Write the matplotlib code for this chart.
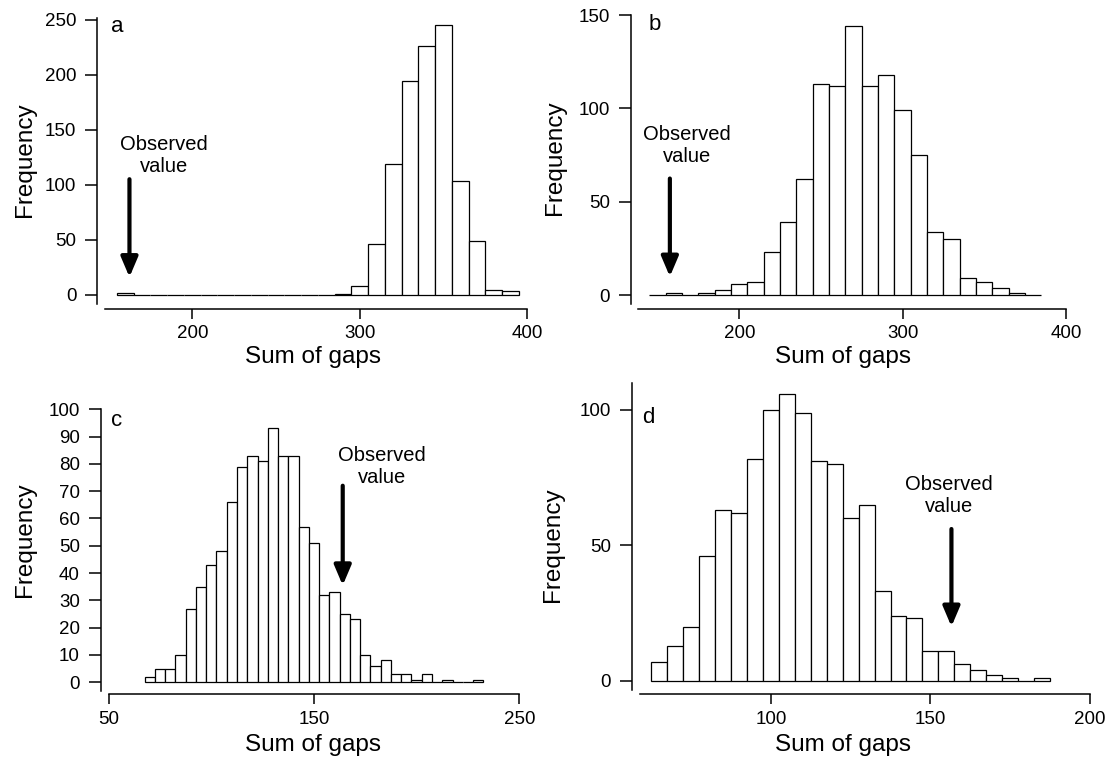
import matplotlib
matplotlib.use("Agg")
import matplotlib.pyplot as plt

plt.rcParams["font.family"] = ["Liberation Sans", "DejaVu Sans"]

# histogram bins (centres) and counts
a_centers = [160, 170, 180, 190, 200, 210, 220, 230, 240, 250, 260, 270,
             280, 290, 300, 310, 320, 330, 340, 350, 360, 370, 380, 390]
a_counts = [2, 0, 0, 0, 0, 0, 0, 0, 0, 0, 0, 0,
            0, 1, 8, 46, 119, 194, 226, 245, 103, 49, 4, 3]

b_centers = [150, 160, 170, 180, 190, 200, 210, 220, 230, 240, 250, 260,
             270, 280, 290, 300, 310, 320, 330, 340, 350, 360, 370, 380]
b_counts = [0, 1, 0, 1, 3, 6, 7, 23, 39, 62, 113, 112,
            144, 112, 118, 99, 75, 34, 30, 9, 7, 4, 1, 0]

c_centers = [70, 75, 80, 85, 90, 95, 100, 105, 110, 115, 120, 125, 130,
             135, 140, 145, 150, 155, 160, 165, 170, 175, 180, 185, 190,
             195, 200, 205, 210, 215, 220, 225, 230]
c_counts = [2, 5, 5, 10, 27, 35, 43, 48, 66, 79, 83, 81, 93,
            83, 83, 57, 51, 32, 33, 25, 23, 10, 6, 8, 3,
            3, 1, 3, 0, 1, 0, 0, 1]

d_centers = [65, 70, 75, 80, 85, 90, 95, 100, 105, 110, 115, 120, 125,
             130, 135, 140, 145, 150, 155, 160, 165, 170, 175, 180, 185]
d_counts = [7, 13, 20, 46, 63, 62, 82, 100, 106, 99, 81, 80, 60,
            65, 33, 24, 23, 11, 11, 6, 4, 2, 1, 0, 1]

bin_widths = {"a": 10, "b": 10, "c": 5, "d": 5}
x_ticks = {"a": [200, 300, 400], "b": [200, 300, 400],
           "c": [50, 150, 250], "d": [100, 150, 200]}
y_ticks = {"a": [0, 50, 100, 150, 200, 250], "b": [0, 50, 100, 150],
           "c": [0, 10, 20, 30, 40, 50, 60, 70, 80, 90, 100], "d": [0, 50, 100]}

# observed value: arrow x, arrow top, arrow tip, text x, text y
observed = {"a": (162.5, 105, 16, 183, 127),
            "b": (157.5, 62.5, 10, 168, 80),
            "c": (164, 72, 35.5, 183, 79),
            "d": (156.6, 56, 20, 155.7, 68.5)}

W, H = 1109, 762
fig = plt.figure(figsize=(W / 100, H / 100), dpi=100)


def px_axes(left, right, top, bottom):
    return fig.add_axes([left / W, 1 - bottom / H, (right - left) / W, (bottom - top) / H])


def panel(ax, key, centers, counts, xlim, ylim, xb, yb):
    ax.bar(centers, counts, width=bin_widths[key], facecolor="white",
           edgecolor="black", linewidth=0.9)
    ax.set_xlim(*xlim)
    ax.set_ylim(*ylim)
    for s in ["top", "right"]:
        ax.spines[s].set_visible(False)
    ax.spines["left"].set_bounds(*yb)
    ax.spines["bottom"].set_bounds(*xb)
    ax.spines["left"].set_linewidth(1.1)
    ax.spines["bottom"].set_linewidth(1.1)
    ax.set_xticks(x_ticks[key])
    ax.set_yticks(y_ticks[key])
    ax.tick_params(axis="y", length=9, width=1.1, pad=6, labelsize=13.5)
    ax.tick_params(axis="x", length=7, width=1.1, pad=5, labelsize=13.5)
    ax.patch.set_alpha(0)

    ax_x, top, tip, tx, ty = observed[key]
    ax.annotate("", xy=(ax_x, tip), xytext=(ax_x, top),
                arrowprops=dict(arrowstyle="-|>,head_length=0.8,head_width=0.34",
                                lw=3, color="black", mutation_scale=15,
                                shrinkA=0, shrinkB=0))
    ax.text(tx, ty, "Observed\nvalue", ha="center", va="center",
            fontsize=14.5, linespacing=1.2)


ax_a = px_axes(97.3, 540, 12, 308.7)
panel(ax_a, "a", a_centers, a_counts, (143.3, 407.6), (-12.7, 257), (148, 400), (-8.5, 252))

ax_b = px_axes(631, 1075, 10, 308.7)
panel(ax_b, "b", b_centers, b_counts, (133.7, 405.6), (-7.17, 152.7), (138, 400), (-4.66, 150))

ax_c = px_axes(100.7, 540, 400, 694.3)
panel(ax_c, "c", c_centers, c_counts, (46.1, 260.1), (-4.4, 103.4), (50, 250), (-3.1, 100))

ax_d = px_axes(632, 1100, 380, 694.3)
panel(ax_d, "d", d_centers, d_counts, (56.4, 203.2), (-5.0, 111), (59, 200), (-3.4, 110))

# axis titles and panel letters placed in figure pixels
def ftext(x, y, s, **kw):
    fig.text(x / W, 1 - y / H, s, ha="center", va="center", **kw)


for x, y in [(25, 160), (555, 158), (25, 540), (553, 545)]:
    ftext(x, y, "Frequency", fontsize=17.5, rotation=90)
for x, y in [(313, 357), (843, 357), (313, 745), (843, 745)]:
    ftext(x, y, "Sum of gaps", fontsize=17.5)
for x, y, s in [(117, 27, "a"), (655, 24, "b"), (117, 420, "c"), (648, 418, "d")]:
    ftext(x, y, s, fontsize=16)

fig.savefig("out.png", dpi=100)
